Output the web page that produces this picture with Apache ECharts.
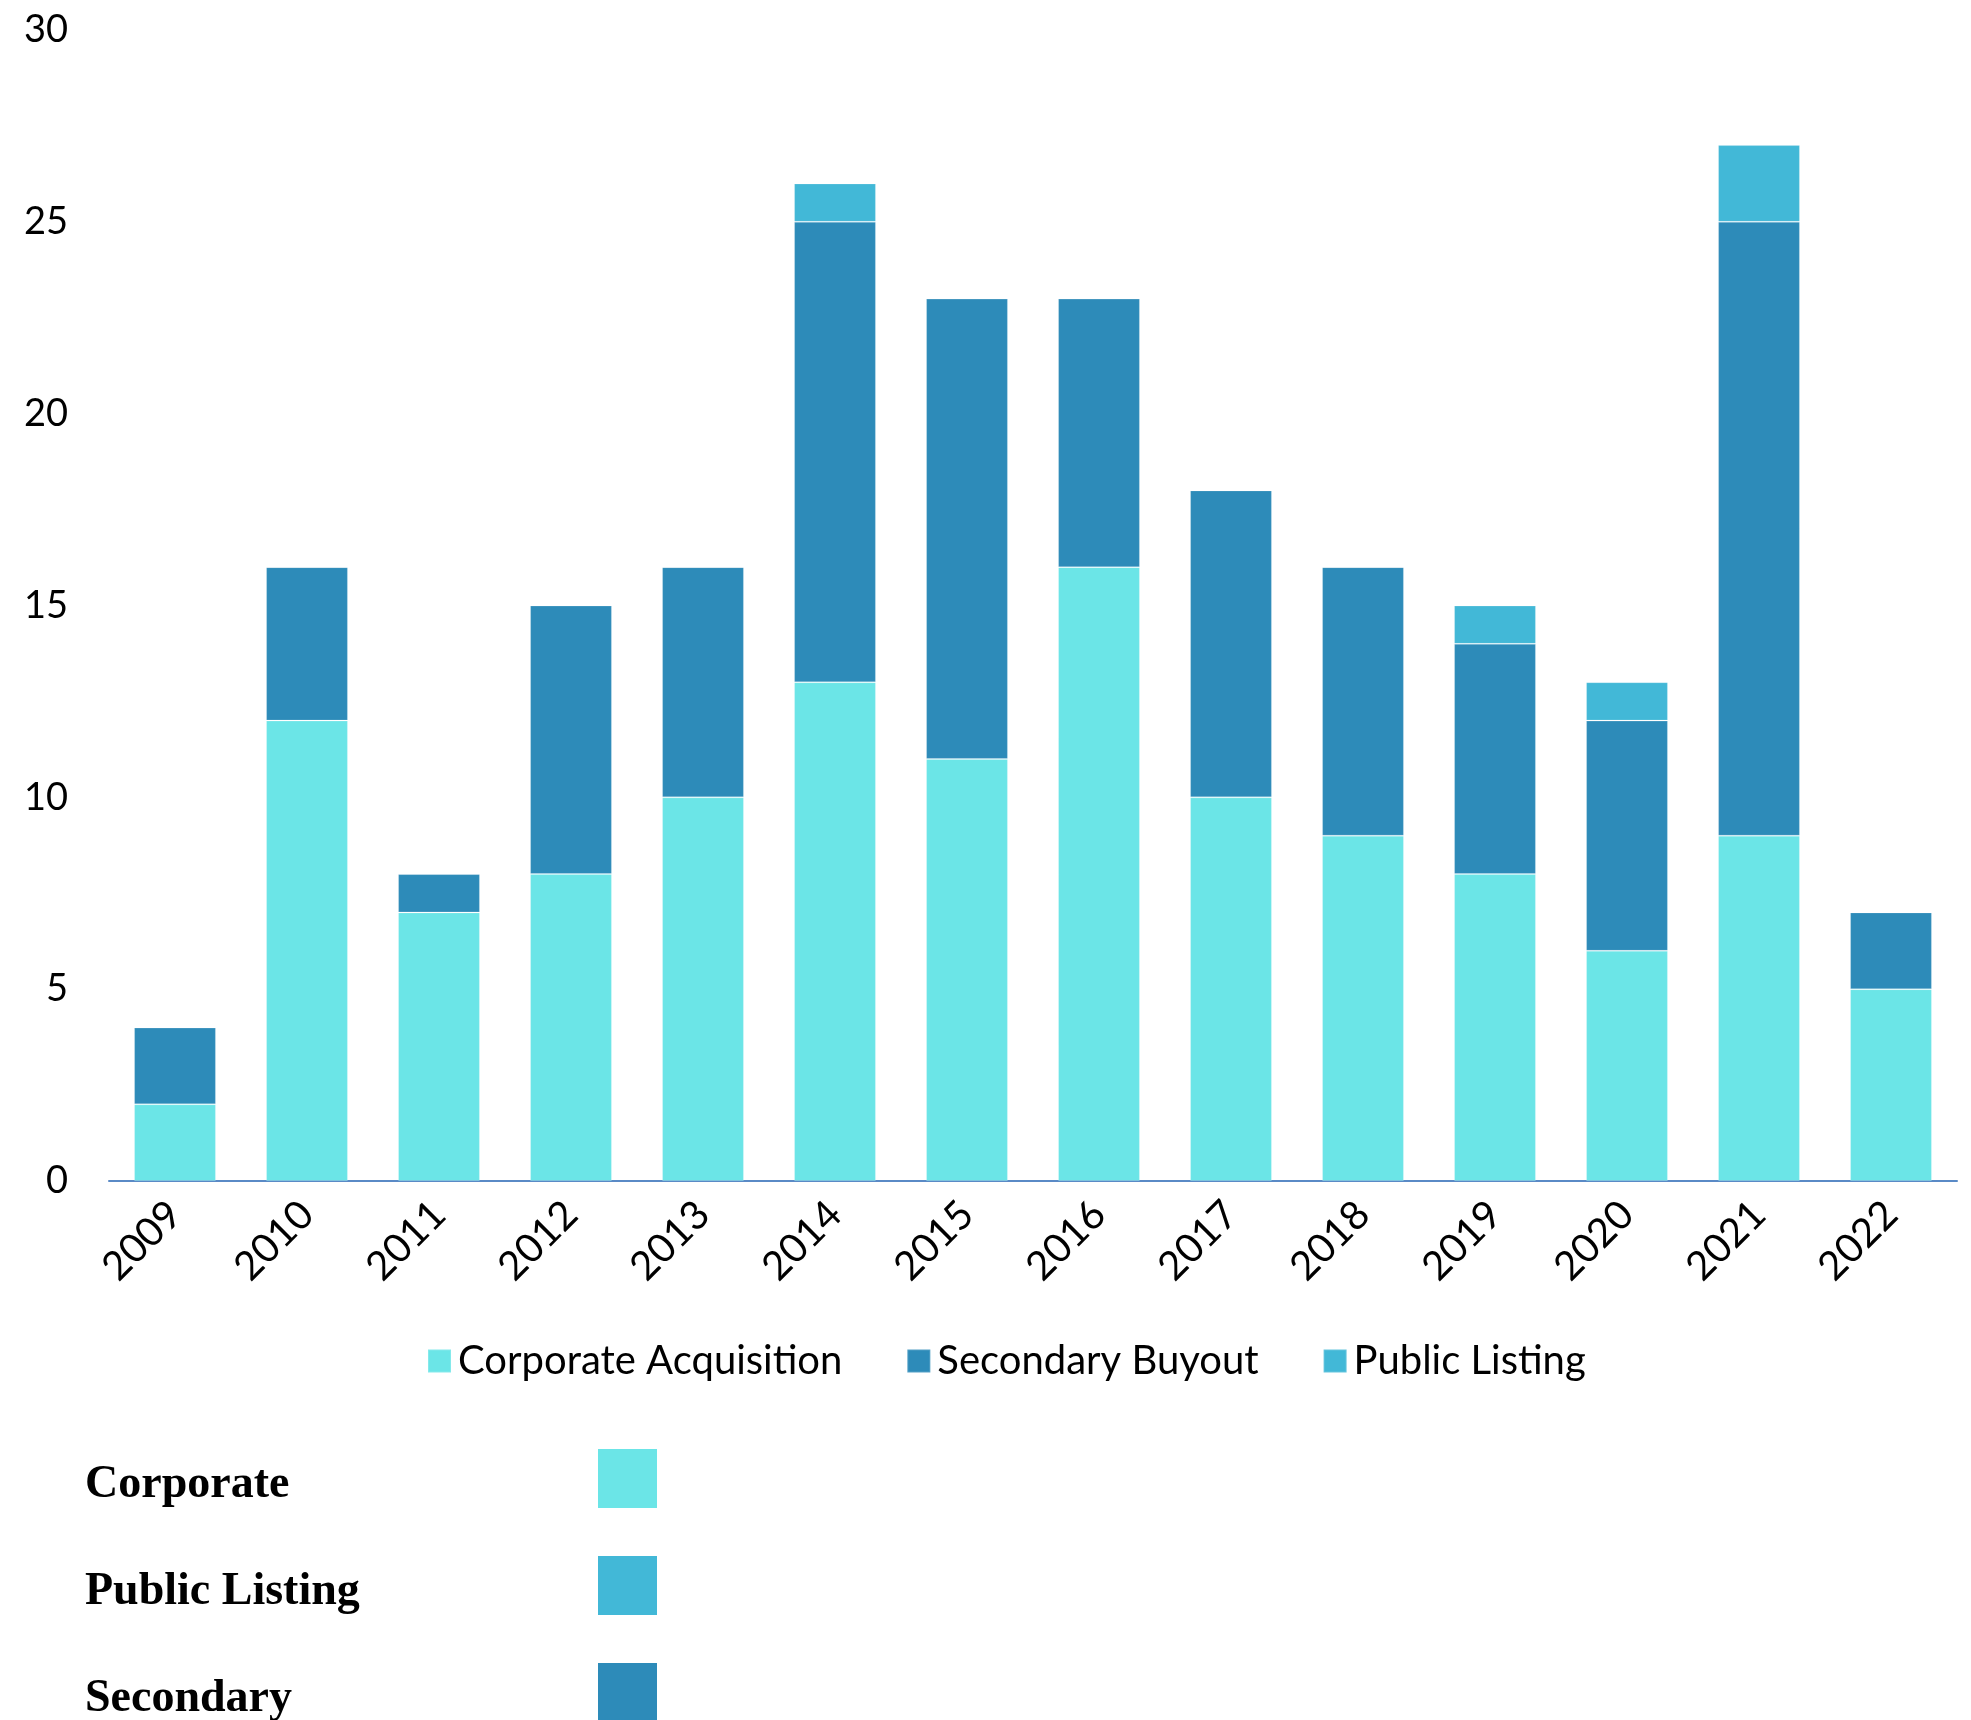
<!DOCTYPE html>
<html>
<head>
<meta charset="utf-8">
<script src="https://cdn.jsdelivr.net/npm/echarts@6/dist/echarts.min.js"></script>
<style>
  html, body { margin: 0; padding: 0; background: #ffffff; }
  #chart { width: 1971px; height: 1720px; }
</style>
</head>
<body>
<div id="chart"></div>
<script>
// Exits by route, per year
const years = ['2009', '2010', '2011', '2012', '2013', '2014', '2015', '2016', '2017', '2018', '2019', '2020', '2021', '2022'];
const corporateAcquisition = [2, 12, 7, 8, 10, 13, 11, 16, 10, 9, 8, 6, 9, 5];
const secondaryBuyout = [2, 4, 1, 7, 6, 12, 12, 7, 8, 7, 6, 6, 16, 2];
const publicListing = [0, 0, 0, 0, 0, 1, 0, 0, 0, 0, 1, 1, 2, 0];
const yTicks = [0, 5, 10, 15, 20, 25, 30];

const colors = {
  corporate: '#6BE5E7',
  secondary: '#2D8BB9',
  listing: '#42B8D7'
};

const sansFont = 'Lato, "Open Sans", sans-serif';
const serifFont = '"Liberation Serif", "DejaVu Serif", serif';

const chart = echarts.init(document.getElementById('chart'), null, { renderer: 'canvas' });

function barSeries(name, data, color) {
  return {
    name: name,
    type: 'bar',
    stack: 'exits',
    data: data,
    barCategoryGap: '38%',
    itemStyle: { color: color, borderColor: 'rgba(255,255,255,0.18)', borderWidth: 1 },
    emphasis: { disabled: true }
  };
}

// Side key drawn under the chart
const keyRows = [
  { label: 'Corporate', color: colors.corporate },
  { label: 'Public Listing', color: colors.listing },
  { label: 'Secondary', color: colors.secondary }
];
const keyGraphics = [];
keyRows.forEach(function (row, i) {
  const top = 1449 + i * 107;
  keyGraphics.push({
    type: 'text',
    left: 85,
    top: top + 13,
    style: {
      text: row.label,
      font: 'bold 46px ' + serifFont,
      fill: '#000000'
    }
  });
  keyGraphics.push({
    type: 'rect',
    shape: { x: 598, y: top, width: 59, height: 59 },
    style: { fill: row.color }
  });
});

chart.setOption({
  animation: false,
  backgroundColor: '#ffffff',
  grid: { left: 109, right: 14, top: 30, bottom: 539, containLabel: false },
  legend: {
    left: 422,
    top: 1336,
    itemWidth: 23,
    itemHeight: 23,
    itemGap: 64,
    icon: 'rect',
    textStyle: { fontFamily: sansFont, fontSize: 40, color: '#000000', padding: [0, 0, 0, 2] },
    data: ['Corporate Acquisition', 'Secondary Buyout', 'Public Listing']
  },
  xAxis: {
    type: 'category',
    data: years,
    axisLine: { show: true, lineStyle: { color: '#5A8AC6', width: 2 } },
    axisTick: { show: false },
    axisLabel: {
      rotate: 45,
      margin: 27,
      fontFamily: sansFont,
      fontSize: 40,
      color: '#000000'
    }
  },
  yAxis: {
    type: 'value',
    min: 0,
    max: 30,
    interval: 5,
    axisLine: { show: false },
    axisTick: { show: false },
    splitLine: { show: false },
    axisLabel: {
      margin: 41,
      fontFamily: sansFont,
      fontSize: 38,
      color: '#000000',
      formatter: function (v) { return yTicks.indexOf(v) >= 0 ? String(v) : ''; }
    }
  },
  series: [
    barSeries('Corporate Acquisition', corporateAcquisition, colors.corporate),
    barSeries('Secondary Buyout', secondaryBuyout, colors.secondary),
    barSeries('Public Listing', publicListing, colors.listing)
  ],
  graphic: keyGraphics
});
</script>
</body>
</html>
